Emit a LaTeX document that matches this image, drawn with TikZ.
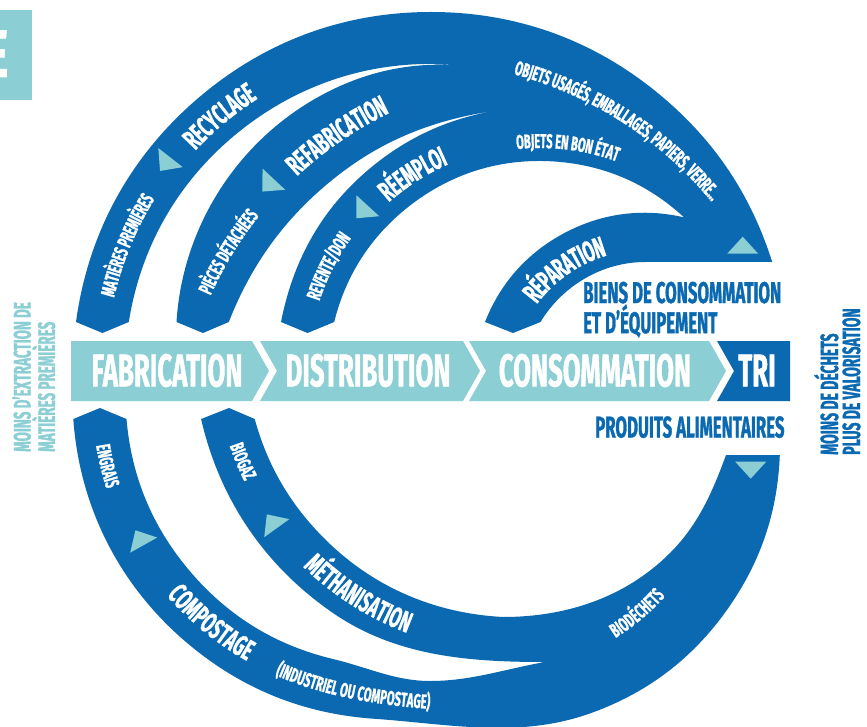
\documentclass[tikz,border=0pt]{standalone}
\usepackage{fontspec}
\setmainfont{Fira Sans}[FakeStretch=0.56, BoldFeatures={FakeBold=1}]
\usepackage{tikz}
\usetikzlibrary{decorations.text, positioning}
\usepackage{xcolor}

\definecolor{circblue}{RGB}{10,105,177}
\definecolor{circteal}{RGB}{139,206,211}

\newcommand{\bigarcfont}{\fontsize{29}{29}\selectfont\bfseries}
\newcommand{\smallarcfont}{\fontsize{20}{20}\selectfont\bfseries}

\tikzset{
  band/.style={fill=circblue},
  stage/.style={fill=circteal},
  flowtri/.style={fill=circteal},
  stagelabel/.style={text=white, inner sep=0pt, font=\fontsize{46}{46}\selectfont\bfseries},
  caption/.style={text=circblue, inner sep=0pt, align=left, font=\fontsize{30}{26}\selectfont\bfseries},
  sidenote/.style={inner sep=0pt, align=left, rotate=90, anchor=north west},
  bigarc/.style={decorate, decoration={text along path, text align=center, raise=-10pt,
      text color=white, text={|\bigarcfont|#1}}},
  smallarc/.style={decorate, decoration={text along path, text align=center, raise=-7pt,
      text color=white, text={|\smallarcfont|#1}}}
}

\begin{document}
\begin{tikzpicture}[x=1pt, y=1pt, looseness=0.9]
  \useasboundingbox (0,0) rectangle (867,-727);

  % tab in the corner
  \fill[circteal] (0,-10) rectangle (32,-100);
  \node[text=white, inner sep=0pt, anchor=base east, font=\fontsize{67}{67}\selectfont\bfseries] (tabE) at (8,-77) {E};

  % upper loops: recyclage, refabrication, reemploi, reparation
  \fill[band] (76,-322)
    to[out=82.3,in=220] (200.9,-95.8)
    to[out=40,in=180] (431,-12)
    to[out=0,in=140] (661.1,-95.8)
    to[out=-40,in=107.6] (772.2,-262)
    -- (645,-262)
    to[out=180,in=58.9] (540.5,-322)
    -- (513,-333) -- (485,-322)
    to[out=68.5,in=208] (564.3,-233.1)
    to[out=28,in=166.9] (684.1,-217.4)
    to[out=137.2,in=-3] (551.1,-161.3)
    to[out=177,in=37] (412.4,-203.7)
    to[out=217,in=76.1] (334.2,-322)
    -- (307.5,-333) -- (281,-322)
    to[out=78.9,in=222] (362,-175.3)
    to[out=42,in=185.4] (515,-108.2)
    to[out=186,in=37] (342.8,-171.7)
    to[out=217,in=68.6] (228.8,-322)
    -- (203,-333) -- (176.5,-322)
    to[out=86.5,in=210.4] (313,-100)
    to[out=30.4,in=175] (463,-65.7)
    to[out=174,in=38] (242.6,-128.9)
    to[out=218,in=81] (128.8,-322)
    -- (102.5,-333) -- cycle;

  % lower loops: compostage, methanisation
  \fill[band] (73.3,-419)
    to[out=274.1,in=140] (188.1,-643.8)
    to[out=320,in=176] (373.4,-718.7)
    to[out=356,in=200] (591.8,-712.8)
    to[out=20,in=235] (728.3,-608)
    to[out=55,in=267.8] (779.8,-455)
    -- (726,-455)
    to[out=250,in=45] (670,-553)
    to[out=225,in=0] (503,-617)
    to[out=177,in=315] (324.4,-538.6)
    to[out=135,in=285.4] (254.7,-419)
    -- (229,-408) -- (201.1,-419)
    to[out=282.9,in=145.5] (333,-613)
    to[out=325.5,in=180] (545,-662)
    to[out=190,in=0] (430,-681)
    to[out=180,in=346.6] (333.3,-659.1)
    to[out=166.6,in=310] (188.8,-569.9)
    to[out=130,in=274.9] (126.5,-419)
    -- (100,-408) -- cycle;

  % flow arrows
  \foreach \tx/\ty/\ta in {166.2/163.1/232, 269.1/184.3/226.9, 363.1/210.9/227.5,
      742.7/246.7/90, 750.7/468.7/270, 140.3/539/119.2, 272.7/522.5/125.8}
    \fill[flowtri, shift={(\tx,-\ty)}, rotate=\ta] (10,0) -- (-7,15.5) -- (-7,-15.5) -- cycle;

  % labels on the upper loops
  \path[smallarc={MATIÈRES PREMIÈRES}] (431,-370) ++(181.7:332) arc[start angle=181.7, end angle=133.7, radius=332];
  \path[bigarc=RECYCLAGE] (431,-370) ++(149.8:332) arc[start angle=149.8, end angle=109.8, radius=332];
  \path[smallarc={PIÈCES DÉTACHÉES}] (551,-448) ++(168.7:380) arc[start angle=168.7, end angle=128.7, radius=380];
  \path[bigarc=REFABRICATION] (551,-448) ++(144.4:382) arc[start angle=144.4, end angle=104.4, radius=382];
  \path[smallarc={REVENTE/DON}] (540,-373) ++(178.2:239) arc[start angle=178.2, end angle=128.2, radius=239];
  \path[bigarc={RÉEMPLOI}] (540,-373) ++(144.6:238) arc[start angle=144.6, end angle=100.6, radius=238];
  \path[smallarc={OBJETS EN BON ÉTAT}] (540,-373) ++(113:232) arc[start angle=113, end angle=53, radius=232];
  \path[smallarc={OBJETS USAGÉS, EMBALLAGES, PAPIERS, VERRE...}] (414,-446) ++(82.2:392) arc[start angle=82.2, end angle=32.2, radius=392];
  \path[bigarc={RÉPARATION}] (645,-385) ++(164.8:145) arc[start angle=164.8, end angle=84.8, radius=145];

  % labels on the lower loops
  \path[smallarc=ENGRAIS] (396,-396) ++(178.6:297) arc[start angle=178.6, end angle=208.6, radius=297];
  \path[bigarc=COMPOSTAGE] (396,-396) ++(208.8:294) arc[start angle=208.8, end angle=252.8, radius=294];
  \path[smallarc={(INDUSTRIEL OU COMPOSTAGE)}] (225.6,-639.3) to[out=325,in=178] (490,-705);
  \path[smallarc={BIODÉCHETS}] (494,-444) ++(290.2:222) arc[start angle=290.2, end angle=330.2, radius=222];
  \path[smallarc=BIOGAZ] (516,-347) ++(190.7:296) arc[start angle=190.7, end angle=214.7, radius=296];
  \path[bigarc={MÉTHANISATION}] (516,-347) ++(212.5:296) arc[start angle=212.5, end angle=262.5, radius=296];

  % main chain
  \fill[stage] (71,-341) -- (252,-341) -- (269,-371) -- (252,-401) -- (71,-401) -- cycle;
  \fill[stage] (260,-341) -- (463,-341) -- (480,-371) -- (463,-401) -- (260,-401) -- (277,-371) -- cycle;
  \fill[stage] (469,-341) -- (709,-341) -- (726,-371) -- (709,-401) -- (469,-401) -- (486,-371) -- cycle;
  \fill[band] (717,-341) -- (790,-341) -- (790,-401) -- (717,-401) -- (734,-371) -- cycle;

  \node[stagelabel] (fab) at (167,-370.5) {FABRICATION};
  \node[stagelabel] (dist) at (368,-370.5) {DISTRIBUTION};
  \node[stagelabel] (cons) at (595,-370.5) {CONSOMMATION};
  \node[stagelabel] (tri) at (757,-370.5) {TRI};

  % captions
  \node[caption, anchor=north west] (biens) at (583,-281.5) {BIENS DE CONSOMMATION\\ET D’ÉQUIPEMENT};
  \node[caption, anchor=north west] (alim) at (595,-416) {PRODUITS ALIMENTAIRES};

  \node[sidenote, text=circteal, font=\fontsize{24}{22}\selectfont\bfseries] (extraction) at (12,-452)
    {MOINS D’EXTRACTION DE\\MATIÈRES PREMIÈRES};
  \node[sidenote, text=circblue, font=\fontsize{25}{22}\selectfont\bfseries] (dechets) at (814,-455)
    {MOINS DE DÉCHETS\\PLUS DE VALORISATION};
\end{tikzpicture}
\end{document}
